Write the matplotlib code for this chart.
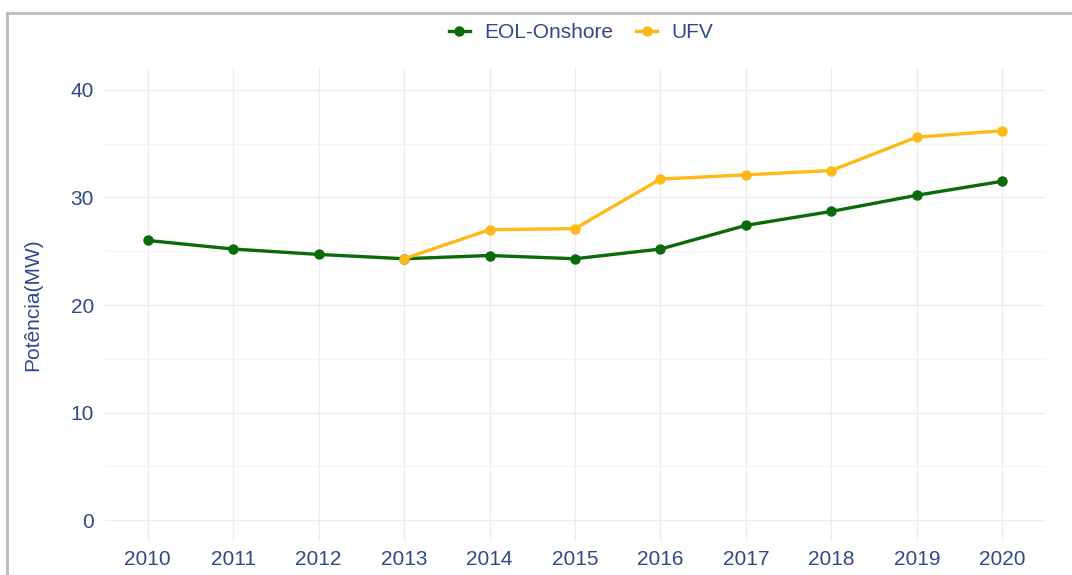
import matplotlib
matplotlib.use("Agg")
import matplotlib.pyplot as plt
from matplotlib.lines import Line2D

years = [2010, 2011, 2012, 2013, 2014, 2015, 2016, 2017, 2018, 2019, 2020]
eol_onshore = [26.0, 25.2, 24.7, 24.3, 24.6, 24.3, 25.2, 27.4, 28.7, 30.2, 31.5]
ufv_years = [2013, 2014, 2015, 2016, 2017, 2018, 2019, 2020]
ufv = [24.3, 27.0, 27.1, 31.7, 32.1, 32.5, 35.6, 36.2]
y_ticks = [0, 10, 20, 30, 40]

txt = "#2E4A87"
green = "#0B6B0B"
gold = "#FFB817"

plt.rcParams['font.family'] = ['Liberation Sans', 'DejaVu Sans']

fig = plt.figure(figsize=(10.72, 5.75), dpi=100)
ax = fig.add_axes([105/1072, 1-541.7/575, 940/1072, (541.7-68.3)/575])

ax.plot(years, eol_onshore, color=green, lw=2.4, marker='o', ms=6.5, label='EOL-Onshore', zorder=3)
ax.plot(ufv_years, ufv, color=gold, lw=2.4, marker='o', ms=6.5, label='UFV', zorder=3)

ax.set_xlim(2009.5, 2020.5)
ax.set_ylim(-2, 42)
ax.set_xticks(years)
ax.set_yticks(y_ticks)
ax.set_yticks([5, 15, 25, 35], minor=True)
ax.grid(True, which='major', color='#EDEDED', lw=1.0)
ax.grid(True, which='minor', axis='y', color='#F4F4F4', lw=0.8)
for s in ax.spines.values():
    s.set_visible(False)
ax.tick_params(axis='both', which='both', length=0, labelsize=15, labelcolor=txt)
ax.tick_params(axis='x', pad=6)
ax.tick_params(axis='y', pad=8)
ax.set_ylabel('Potência(MW)', color=txt, fontsize=15, labelpad=20)

leg = fig.legend(loc='center', bbox_to_anchor=(581/1072, 1-33/575), ncol=2, frameon=False,
                 fontsize=15, handlelength=1.0, handletextpad=0.7, columnspacing=1.1,
                 markerscale=1.0)
for t in leg.get_texts():
    t.set_color(txt)

fig.add_artist(Line2D([7/1072, 1], [1-13/575, 1-13/575], transform=fig.transFigure, color='#BBBBBB', lw=2))
fig.add_artist(Line2D([7/1072, 7/1072], [0, 1-13/575], transform=fig.transFigure, color='#BBBBBB', lw=2))

fig.savefig('out.png', dpi=100)
